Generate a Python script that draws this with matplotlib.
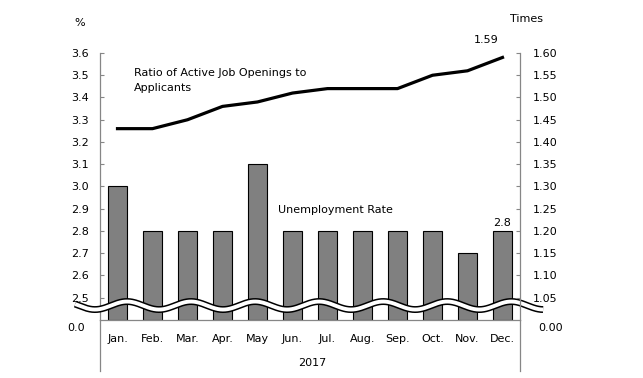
import numpy as np
import matplotlib.pyplot as plt

# data (2017)
months = ["Jan.", "Feb.", "Mar.", "Apr.", "May", "Jun.", "Jul.", "Aug.",
          "Sep.", "Oct.", "Nov.", "Dec."]
unemployment = [3.0, 2.8, 2.8, 2.8, 3.1, 2.8, 2.8, 2.8, 2.8, 2.8, 2.7, 2.8]
job_ratio = [1.43, 1.43, 1.45, 1.48, 1.49, 1.51, 1.52, 1.52, 1.52, 1.55, 1.56, 1.59]

left_ticks = [2.5, 2.6, 2.7, 2.8, 2.9, 3.0, 3.1, 3.2, 3.3, 3.4, 3.5, 3.6]
right_ticks = [1.05, 1.10, 1.15, 1.20, 1.25, 1.30, 1.35, 1.40, 1.45, 1.50, 1.55, 1.60]

W, H = 643, 378
fig = plt.figure(figsize=(W / 100, H / 100), dpi=100)
ax = fig.add_axes([100 / W, 1 - 320 / H, 420 / W, 267 / H])
ax2 = ax.twinx()

gray = "#868686"
x = np.arange(len(months))

# bars start from the broken axis floor (2.4 stands for 0.0)
ax.bar(x, np.array(unemployment) - 2.4, bottom=2.4, width=0.55,
       color="#808080", edgecolor="black", linewidth=0.8, zorder=2)
ax.set_xlim(-0.5, len(months) - 0.5)
ax.set_ylim(2.4, 3.6)
ax.set_yticks(left_ticks)
ax.set_yticklabels([f"{v:.1f}" for v in left_ticks])
ax.set_xticks(x)
ax.set_xticklabels(months)

ax2.plot(x, job_ratio, color="black", linewidth=2.3, zorder=3)
ax2.set_ylim(1.00, 1.60)
ax2.set_yticks(right_ticks)
ax2.set_yticklabels([f"{v:.2f}" for v in right_ticks])

for a in (ax, ax2):
    for s in a.spines.values():
        s.set_color(gray)
        s.set_linewidth(0.9)
    a.spines["top"].set_visible(False)
ax.spines["right"].set_visible(False)
ax2.spines["left"].set_visible(False)
ax2.spines["bottom"].set_visible(False)

ax.tick_params(axis="y", direction="in", length=3, color=gray, labelsize=8, pad=8)
ax.tick_params(axis="x", length=0, labelsize=8, pad=10)
ax2.tick_params(axis="y", direction="in", length=3, color=gray, labelsize=8, pad=9)

# category separators below the axis
for xv in (0, 1):
    ax.plot([xv, xv], [0, -0.19], transform=ax.transAxes, color=gray,
            linewidth=0.9, clip_on=False)

# wavy axis break
xw = np.linspace(-1.21, 12.16, 600)
yw = 2.465 + 0.018 * np.cos(2 * np.pi * (xw - 0.271) / 1.83)
ax.plot(xw, yw, color="black", linewidth=5.0, clip_on=False, zorder=10,
        solid_capstyle="butt")
ax.plot(xw, yw, color="white", linewidth=2.8, clip_on=False, zorder=11,
        solid_capstyle="butt")

# labels
fig.text(76.5 / W, 1 - 328 / H, "0.0", fontsize=8, ha="center", va="center")
fig.text(551 / W, 1 - 328 / H, "0.00", fontsize=8, ha="center", va="center")
fig.text(80 / W, 1 - 23 / H, "%", fontsize=8, ha="center", va="center")
fig.text(526 / W, 1 - 18.5 / H, "Times", fontsize=8, ha="center", va="center")
fig.text(312 / W, 1 - 363 / H, "2017", fontsize=8, ha="center", va="center")
fig.text(134 / W, 1 - 80.5 / H, "Ratio of Active Job Openings to\nApplicants",
         fontsize=8, ha="left", va="center", linespacing=1.55)
fig.text(278 / W, 1 - 210 / H, "Unemployment Rate", fontsize=8,
         ha="left", va="center")

ax2.annotate(f"{job_ratio[-1]:.2f}", xy=(x[-1], job_ratio[-1]),
             xytext=(-11.5, 12.5), textcoords="offset points",
             fontsize=8, ha="center", va="center")
ax.annotate(f"{unemployment[-1]:.1f}", xy=(x[-1], unemployment[-1]),
            xytext=(0, 5.5), textcoords="offset points",
            fontsize=8, ha="center", va="center")

fig.savefig("out.png", dpi=100)
